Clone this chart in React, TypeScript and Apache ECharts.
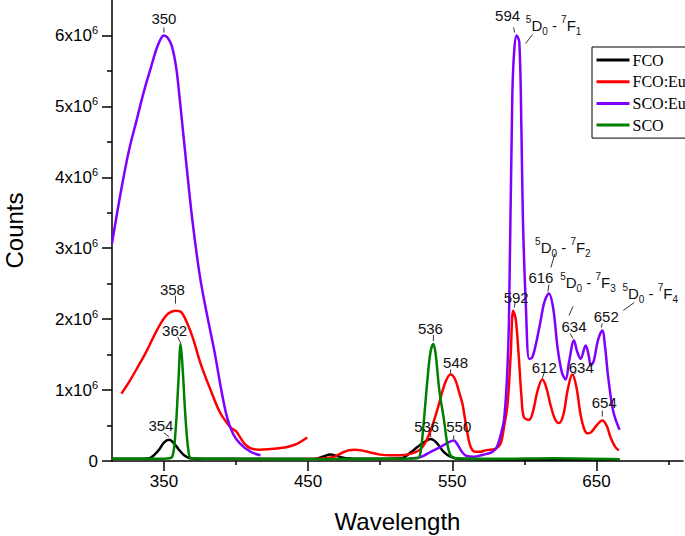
import React, { useEffect, useRef } from 'react';
import * as echarts from 'echarts';

// Wavelength (nm) / Counts (x10^6)
const fco: [number, number][] = [
  [314, 0.03], [330, 0.03], [340, 0.04], [343, 0.08], [347, 0.17], [350, 0.26], [353.5, 0.3],
  [357, 0.25], [360, 0.17], [364, 0.08], [368, 0.04], [380, 0.03], [420, 0.03], [455, 0.03],
  [460, 0.06], [465.6, 0.09], [470, 0.07], [476, 0.04], [490, 0.03], [515, 0.04], [521, 0.12],
  [526, 0.2], [530, 0.26], [535, 0.31], [539, 0.26], [544, 0.13], [549, 0.06], [555, 0.03],
  [600, 0.02], [666, 0.02],
];

const fcoEuPart1: [number, number][] = [
  [320.5, 0.95], [326, 1.12], [332, 1.33], [338, 1.55], [344, 1.8], [349, 1.98], [353, 2.08],
  [358, 2.12], [362, 2.1], [366, 1.95], [370, 1.74], [375.5, 1.37], [382, 1.02], [389, 0.68],
  [394, 0.53], [397, 0.46], [400, 0.42], [403, 0.33], [406, 0.24], [410, 0.18], [416, 0.16],
  [422, 0.165], [430, 0.18], [436, 0.2], [443, 0.25], [449.4, 0.33],
];
const fcoEuPart2: [number, number][] = [
  [455, 0.03], [462, 0.04], [468, 0.06], [474, 0.12], [478, 0.15], [482, 0.16], [487, 0.15],
  [493, 0.12], [500, 0.09], [507, 0.08], [514, 0.08], [521, 0.1], [527, 0.15], [531, 0.25],
  [535, 0.43], [540, 0.75], [545, 1.1], [548.8, 1.22], [552, 1.15], [555, 0.95], [557, 0.81],
  [560, 0.45], [562.7, 0.2], [566, 0.13], [569.6, 0.13], [573, 0.15], [576.6, 0.16], [580, 0.17],
  [583.5, 0.245], [586, 0.5], [588.3, 0.8], [590.5, 1.5], [592.2, 2.12], [594, 2.0], [596, 1.5],
  [598, 0.9], [599.6, 0.62], [603.2, 0.58], [606, 0.7], [609, 0.98], [612.4, 1.15], [615, 1.05],
  [618, 0.8], [621, 0.6], [624, 0.535], [627, 0.65], [630, 1.0], [633.2, 1.22], [636, 1.05],
  [639, 0.65], [641.5, 0.45], [643.6, 0.39], [646, 0.4], [650, 0.5], [654, 0.57], [657, 0.5],
  [660, 0.32], [663, 0.2], [665.5, 0.15],
];

const scoEuPart1: [number, number][] = [
  [314, 3.07], [318, 3.55], [322, 4.0], [326, 4.4], [331, 4.8], [336, 5.2], [341, 5.55],
  [345, 5.82], [348, 5.96], [350, 6.0], [352.5, 5.97], [355.5, 5.85], [358.5, 5.55], [361, 5.1],
  [363.5, 4.6], [366, 4.1], [370, 3.35], [375, 2.6], [380, 2.05], [385, 1.55], [390, 0.98],
  [394, 0.6], [398, 0.38], [403, 0.24], [410, 0.13], [417, 0.08],
];
const scoEuPart2: [number, number][] = [
  [520, 0.04], [528, 0.055], [535, 0.13], [542, 0.2], [548, 0.27], [551, 0.29], [554, 0.22],
  [557, 0.12], [560, 0.07], [565, 0.06], [570, 0.08], [574, 0.1], [578, 0.13], [581, 0.2],
  [584, 0.4], [586, 0.6], [588, 1.2], [589.3, 1.98], [591.6, 5.13], [593, 5.8], [594.6, 6.0],
  [596.5, 5.9], [598, 4.6], [599, 3.39], [601, 2.2], [603.3, 1.44], [605.4, 1.46], [608, 1.65],
  [611, 1.95], [614, 2.25], [617, 2.36], [620, 2.15], [623, 1.6], [626, 1.25], [628.6, 1.15],
  [631, 1.4], [634.4, 1.7], [636.5, 1.55], [639, 1.44], [642.5, 1.63], [644.5, 1.5], [646, 1.35],
  [648, 1.4], [651, 1.7], [654, 1.84], [656, 1.6], [658, 1.2], [661, 0.76], [663, 0.6], [666, 0.44],
];

const sco: [number, number][] = [
  [314, 0.03], [340, 0.03], [352, 0.035], [355.8, 0.06], [358, 0.4], [360, 1.1], [361.6, 1.65],
  [363, 1.3], [365, 0.6], [367, 0.15], [369, 0.04], [400, 0.03], [450, 0.025], [500, 0.03],
  [524, 0.035], [526.9, 0.05], [528.5, 0.2], [530.3, 0.57], [533, 1.2], [535, 1.55], [536.9, 1.65],
  [538.5, 1.5], [541, 1.0], [544.3, 0.57], [546.5, 0.25], [548.8, 0.08], [552, 0.04], [580, 0.03],
  [620, 0.04], [666, 0.025],
];

const seriesNames = ['FCO', 'FCO:Eu', 'SCO:Eu', 'SCO'];
const seriesColors = ['#000000', '#ff0000', '#8000ff', '#008000'];

const xMajorTicks = [350, 450, 550, 650];
const xMinorTicks = [400, 500, 600, 700];
const yMajorTicks = [0, 1, 2, 3, 4, 5, 6];
const yMinorTicks = [0.5, 1.5, 2.5, 3.5, 4.5, 5.5];

// Peak annotations: label + anchor (data coords)
const peakLabels = [
  { text: '350', at: [350, 6.0] },
  { text: '594', at: [594.6, 6.0] },
  { term: '1', at: [594.6, 6.0] },
  { text: '358', at: [358, 2.12] },
  { text: '362', at: [361.6, 1.65] },
  { text: '354', at: [353.5, 0.3] },
  { text: '536', at: [536.9, 1.65] },
  { text: '548', at: [548.8, 1.22] },
  { text: '536', at: [535, 0.31] },
  { text: '550', at: [551, 0.29] },
  { text: '592', at: [592.2, 2.12] },
  { text: '616', at: [617, 2.36] },
  { term: '2', at: [617, 2.36] },
  { term: '3', at: [634.4, 1.7] },
  { text: '634', at: [634.4, 1.7] },
  { text: '652', at: [654, 1.84] },
  { term: '4', at: [654, 1.84] },
  { text: '612', at: [612.4, 1.15] },
  { text: '634', at: [633.2, 1.22] },
  { text: '654', at: [654, 0.57] },
];
// layout offsets (px) for each annotation: text centre, leader line
const labelLayout = [
  { t: [0, -17], l: [0, -8, 0, -3] },
  { t: [-9, -20], l: [-3, -8, -2, -3] },
  { t: [37, -10], l: [16, -1, 9, 8] },
  { t: [-3, -21], l: [0, -15, 0, -7] },
  { t: [-6, -13], l: [-3, -7, 0, -1] },
  { t: [-8, -14], l: [-5, -7, 0, -3] },
  { t: [-3, -15], l: [0, -9, 0, -3] },
  { t: [5, -12], l: [0, -5, 0, -1] },
  { t: [-4, -13], l: [0, -6, 0, -2] },
  { t: [5, -14], l: [0, -5, 0, -1] },
  { t: [3, -13], l: [2, -8, 1, -3] },
  { t: [-8, -16], l: [0, -9, -1, -2] },
  { t: [14, -46], l: [6, -40, 2, -26] },
  { t: [14, -58], l: [-1, -34, -5, -25] },
  { t: [0, -14], l: [-4, -7, -1, -2] },
  { t: [4, -14], l: [0, -7, -1, -3] },
  { t: [48, -37], l: [32, -28, 21, -20] },
  { t: [2, -12], l: [2, -7, 0, -1] },
  { t: [9, -7], l: [4, -2, 1, 0] },
  { t: [2, -18], l: [0, -10, 0, -4] },
];

const SANS = '"Liberation Sans", Arial, Helvetica, sans-serif';
const SERIF = '"Liberation Serif", "Times New Roman", serif';

function joinSegments(a: [number, number][], b: [number, number][], gapX: number) {
  return [...a, [gapX, '-'], ...b];
}

export default function App() {
  const ref = useRef<HTMLDivElement>(null);
  useEffect(() => {
    const chart = echarts.init(ref.current!, null, { renderer: 'svg' });
    const seriesData = [
      fco,
      joinSegments(fcoEuPart1, fcoEuPart2, 452),
      joinSegments(scoEuPart1, scoEuPart2, 470),
      sco,
    ];
    chart.setOption({
      animation: false,
      backgroundColor: '#ffffff',
      grid: { left: 112, right: 2, top: 0, bottom: 75, containLabel: false, outerBoundsMode: 'none' },
      legend: {
        data: seriesNames,
        orient: 'vertical',
        left: 592,
        top: 47,
        padding: [5, 14, 5, 3],
        itemGap: 5.7,
        itemWidth: 33,
        itemHeight: 13,
        borderColor: '#000',
        borderWidth: 1,
        borderRadius: 0,
        itemStyle: { opacity: 0 },
        lineStyle: { width: 3, opacity: 1 },
        textStyle: { fontFamily: SERIF, fontSize: 16, color: '#000', padding: [0, 0, 0, -2] },
      },
      xAxis: [
        {
          type: 'value',
          min: 314,
          max: 710,
          name: 'Wavelength',
          nameLocation: 'middle',
          nameGap: 48,
          nameTextStyle: { fontFamily: SANS, fontSize: 24, color: '#000' },
          axisLine: { show: true, onZero: false, lineStyle: { color: '#000', width: 1.5 } },
          axisTick: { show: true, length: 10, customValues: xMajorTicks, lineStyle: { color: '#000', width: 1.5 } },
          axisLabel: { customValues: xMajorTicks, margin: 12, fontFamily: SANS, fontSize: 17, color: '#000' },
          splitLine: { show: false },
        },
        {
          type: 'value',
          min: 314,
          max: 710,
          position: 'bottom',
          offset: 0,
          axisLine: { show: false },
          axisTick: { show: true, length: 4, customValues: xMinorTicks, lineStyle: { color: '#000', width: 1.5 } },
          axisLabel: { show: false },
          splitLine: { show: false },
        },
      ],
      yAxis: [
        {
          type: 'value',
          min: 0,
          max: 6.5,
          name: 'Counts',
          nameLocation: 'middle',
          nameGap: 86,
          nameTextStyle: { fontFamily: SANS, fontSize: 24, color: '#000' },
          axisLine: { show: true, onZero: false, lineStyle: { color: '#000', width: 1.5 } },
          axisTick: { show: true, length: 10, customValues: yMajorTicks, lineStyle: { color: '#000', width: 1.5 } },
          axisLabel: {
            customValues: yMajorTicks,
            margin: 14,
            formatter: (v: number) => (v === 0 ? '{m|0}' : `{m|${v}x10}{p|6}`),
            rich: {
              m: { fontFamily: SANS, fontSize: 17, color: '#000', lineHeight: 22, verticalAlign: 'middle' },
              p: { fontFamily: SANS, fontSize: 11, color: '#000', lineHeight: 11, verticalAlign: 'top' },
            },
          },
          splitLine: { show: false },
        },
        {
          type: 'value',
          min: 0,
          max: 6.5,
          position: 'left',
          offset: 0,
          axisLine: { show: false },
          axisTick: { show: true, length: 5, customValues: yMinorTicks, lineStyle: { color: '#000', width: 1.5 } },
          axisLabel: { show: false },
          splitLine: { show: false },
        },
      ],
      series: seriesNames.map((name, i) => ({
        name,
        type: 'line',
        xAxisIndex: 0,
        yAxisIndex: 0,
        data: seriesData[i],
        symbol: 'none',
        smooth: 0.35,
        connectNulls: false,
        color: seriesColors[i],
        lineStyle: { color: seriesColors[i], width: 2.5 },
      })),
    });

    const graphics: any[] = [];
    peakLabels.forEach((a, i) => {
      const p = chart.convertToPixel({ xAxisIndex: 0, yAxisIndex: 0 }, a.at) as number[];
      const lay = labelLayout[i];
      graphics.push({
        type: 'line',
        shape: { x1: p[0] + lay.l[0], y1: p[1] + lay.l[1], x2: p[0] + lay.l[2], y2: p[1] + lay.l[3] },
        style: { stroke: '#333', lineWidth: 1 },
        z: 100,
      });
      const text = a.term
        ? `{p|5}{m|D}{b|0}{m| - }{p|7}{m|F}{b|${a.term}}`
        : `{m|${a.text}}`;
      graphics.push({
        type: 'text',
        x: p[0] + lay.t[0],
        y: p[1] + lay.t[1],
        z: 100,
        style: {
          text,
          align: 'center',
          verticalAlign: 'middle',
          fill: '#111',
          rich: {
            m: { fontFamily: SANS, fontSize: 15, fill: '#111', color: '#111', lineHeight: 22, verticalAlign: 'middle' },
            p: { fontFamily: SANS, fontSize: 10, fill: '#111', color: '#111', lineHeight: 10, verticalAlign: 'top' },
            b: { fontFamily: SANS, fontSize: 10, fill: '#111', color: '#111', lineHeight: 10, verticalAlign: 'bottom' },
          },
        },
      });
    });
    chart.setOption({ graphic: graphics });
    return () => chart.dispose();
  }, []);
  return <div ref={ref} style={{ position: 'fixed', left: 0, top: 0, width: 685, height: 536 }} />;
}
